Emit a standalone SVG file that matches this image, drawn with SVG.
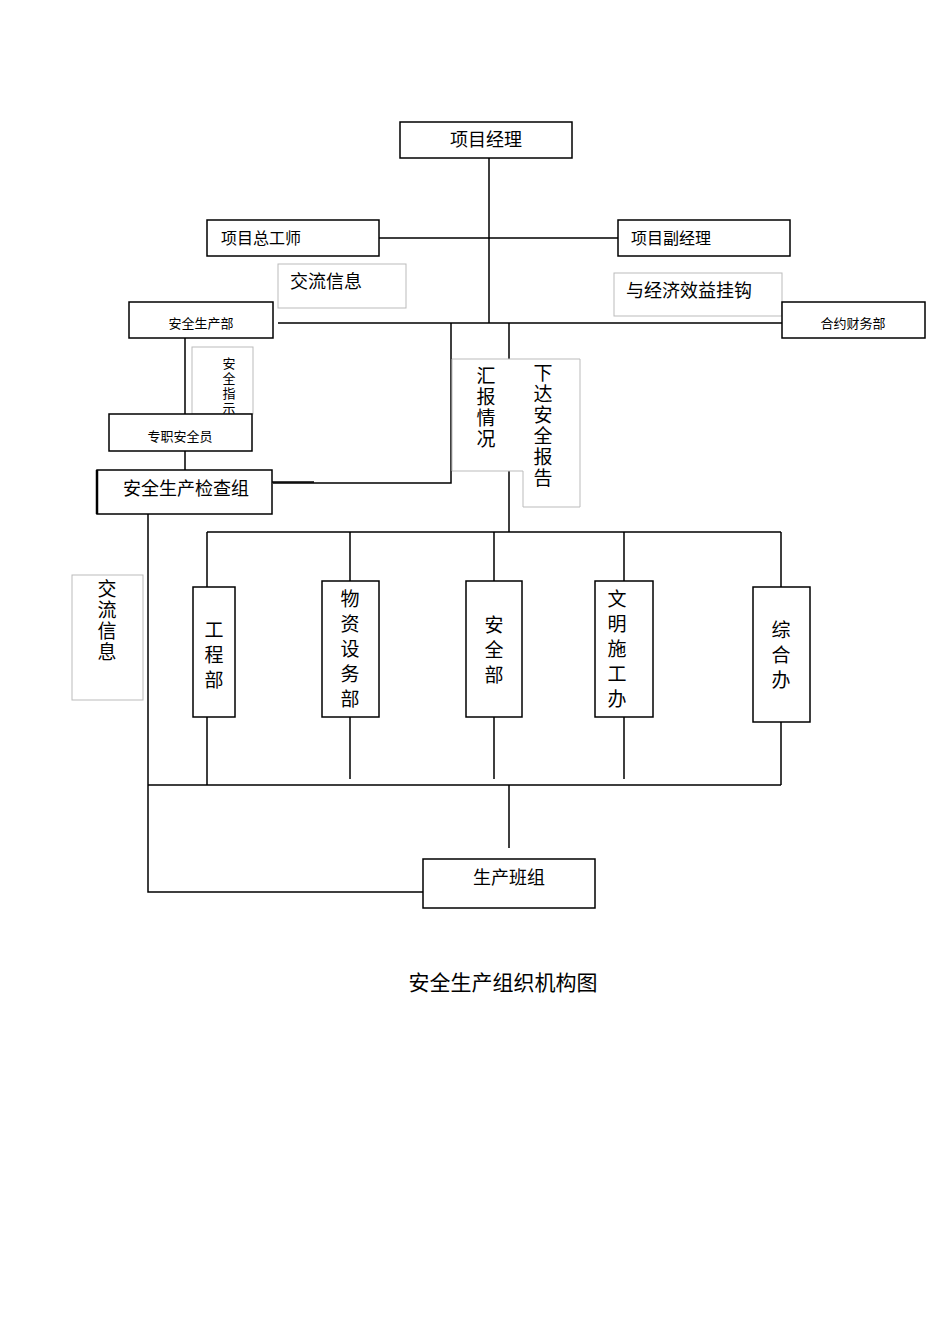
<svg xmlns="http://www.w3.org/2000/svg" width="950" height="1344" viewBox="0 0 950 1344">
<style>
.b{fill:#fff;stroke:#000;stroke-width:1.5}
.g{fill:#fff;stroke:#bbb;stroke-width:1}
.l{stroke:#000;stroke-width:1.5;fill:none}
text{font-family:"Liberation Serif","Noto Sans CJK SC",serif;fill:#000}
.v{text-anchor:middle;font-size:19px}
</style>
<rect width="950" height="1344" fill="#fff"/>
<g id="connectors">
<path class="l" d="M489 158V323M379 238H618M278 323H782M451 323V483H273M509 323V532M185 338V414M185 451V470M148 514V892H423M207 532H781M207 532V587M350 532V581M494 532V581M624 532V581M781 532V587M207 717V785M350 717V779M494 717V779M624 717V779M781 722V785M148 785H781M509 785V848"/>
<path class="l" d="M272 482H314" stroke-width="2.5"/>
</g>
<g id="n-pm"><rect class="b" x="400" y="122" width="172" height="36"/><text x="486" y="146" font-size="18" text-anchor="middle">项目经理</text></g>
<g id="n-ce"><rect class="b" x="207" y="220" width="172" height="36"/><text x="221" y="244" font-size="16">项目总工师</text></g>
<g id="n-dpm"><rect class="b" x="618" y="220" width="172" height="36"/><text x="631" y="244" font-size="16">项目副经理</text></g>
<g id="l-info1"><rect class="g" x="278" y="264" width="128" height="44"/><text x="290" y="288" font-size="18">交流信息</text></g>
<g id="l-econ"><rect class="g" x="614" y="273" width="168" height="43"/><text x="626" y="297" font-size="18">与经济效益挂钩</text></g>
<g id="n-safety"><rect class="b" x="129" y="302" width="144" height="36"/><text x="201" y="328" font-size="13" text-anchor="middle">安全生产部</text></g>
<g id="n-finance"><rect class="b" x="782" y="302" width="143" height="36"/><text x="853" y="328" font-size="13" text-anchor="middle">合约财务部</text></g>
<g id="l-report"><path class="g" d="M452 359H580V507H523V471H452Z"/>
<text class="v" x="486" y="383">汇</text><text class="v" x="486" y="404">报</text><text class="v" x="486" y="425">情</text><text class="v" x="486" y="446">况</text>
<text class="v" x="543" y="380">下</text><text class="v" x="543" y="401">达</text><text class="v" x="543" y="422">安</text><text class="v" x="543" y="443">全</text><text class="v" x="543" y="464">报</text><text class="v" x="543" y="485">告</text></g>
<g id="l-instr"><rect class="g" x="192" y="347" width="61" height="67"/>
<text x="229" y="368" font-size="13" text-anchor="middle">安</text><text x="229" y="383" font-size="13" text-anchor="middle">全</text><text x="229" y="398" font-size="13" text-anchor="middle">指</text><text x="229" y="413" font-size="13" text-anchor="middle">示</text></g>
<g id="n-officer"><rect class="b" x="109" y="414" width="143" height="37"/><text x="180" y="441" font-size="13" text-anchor="middle">专职安全员</text></g>
<g id="n-check"><rect class="b" x="97" y="470" width="175" height="44"/><line x1="97" y1="470" x2="97" y2="514" stroke="#000" stroke-width="2.5"/><text x="186" y="495" font-size="18" text-anchor="middle">安全生产检查组</text></g>
<g id="l-info2"><rect class="g" x="72" y="575" width="71" height="125"/>
<text class="v" x="107" y="596">交</text><text class="v" x="107" y="617">流</text><text class="v" x="107" y="638">信</text><text class="v" x="107" y="659">息</text></g>
<g id="n-eng"><rect class="b" x="193" y="587" width="42" height="130"/>
<text class="v" x="214" y="637">工</text><text class="v" x="214" y="662">程</text><text class="v" x="214" y="687">部</text></g>
<g id="n-mat"><rect class="b" x="322" y="581" width="57" height="136"/>
<text class="v" x="350" y="606">物</text><text class="v" x="350" y="631">资</text><text class="v" x="350" y="656">设</text><text class="v" x="350" y="681">务</text><text class="v" x="350" y="706">部</text></g>
<g id="n-sec"><rect class="b" x="466" y="581" width="56" height="136"/>
<text class="v" x="494" y="632">安</text><text class="v" x="494" y="657">全</text><text class="v" x="494" y="682">部</text></g>
<g id="n-civ"><rect class="b" x="595" y="581" width="58" height="136"/>
<text class="v" x="617" y="606">文</text><text class="v" x="617" y="631">明</text><text class="v" x="617" y="656">施</text><text class="v" x="617" y="681">工</text><text class="v" x="617" y="706">办</text></g>
<g id="n-gen"><rect class="b" x="753" y="587" width="57" height="135"/>
<text class="v" x="781" y="637">综</text><text class="v" x="781" y="662">合</text><text class="v" x="781" y="687">办</text></g>
<g id="n-team"><rect class="b" x="423" y="859" width="172" height="49"/><text x="509" y="884" font-size="18" text-anchor="middle">生产班组</text></g>
<text x="503" y="990" font-size="21" text-anchor="middle">安全生产组织机构图</text>
</svg>
